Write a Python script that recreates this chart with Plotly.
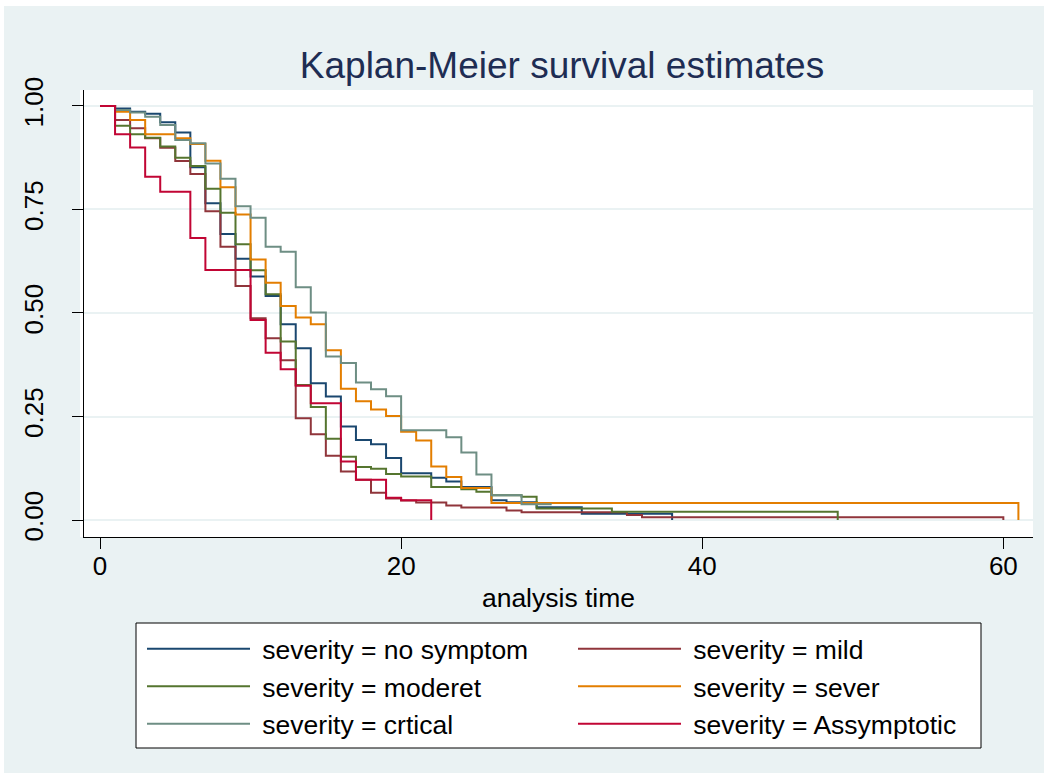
import plotly.graph_objects as go

# ---- data ----
t_nosym = [0, 1, 2, 3, 4, 5, 6, 7, 8, 9, 10, 11, 12, 13, 14, 15, 16, 17, 18, 19, 20, 22, 23, 24, 26, 27, 29, 32, 38]
s_nosym = [1, .994, .986, .981, .961, .936, .852, .765, .691, .631, .588, .541, .473, .415, .330, .298, .226, .193, .183, .150, .113, .102, .093, .080, .048, .043, .031, .015, 0]

t_mild = [0, 1, 2, 3, 4, 5, 6, 7, 8, 9, 10, 11, 12, 13, 14, 15, 16, 17, 18, 19, 20, 21, 23, 24, 27, 28, 35, 36, 60]
s_mild = [1, .966, .946, .922, .899, .867, .836, .746, .660, .565, .487, .439, .386, .246, .207, .155, .117, .097, .066, .052, .047, .042, .035, .030, .023, .019, .012, .0065, 0]

t_mod = [0, 1, 2, 3, 4, 5, 6, 7, 8, 9, 10, 11, 12, 13, 14, 15, 16, 17, 18, 19, 20, 22, 24, 25, 26, 28, 29, 34, 49]
s_mod = [1, .952, .932, .923, .902, .875, .855, .800, .742, .666, .603, .545, .431, .326, .273, .196, .153, .128, .124, .111, .105, .080, .074, .068, .060, .056, .028, .020, 0]

t_sev = [0, 1, 2, 3, 5, 6, 7, 8, 9, 10, 11, 12, 13, 14, 15, 16, 17, 18, 19, 20, 21, 22, 23, 24, 26, 61]
s_sev = [1, .986, .966, .932, .922, .908, .868, .804, .738, .629, .573, .517, .489, .473, .410, .317, .287, .267, .251, .213, .192, .129, .104, .077, .041, 0]

t_crit = [0, 1, 2, 3, 4, 5, 6, 7, 8, 9, 10, 11, 12, 13, 14, 15, 16, 17, 18, 19, 20, 23, 24, 25, 26, 28, 30]
s_crit = [1, .990, .984, .974, .954, .918, .910, .861, .824, .758, .730, .660, .648, .562, .501, .395, .379, .332, .316, .299, .217, .200, .163, .110, .060, .038, .038]

t_asym = [0, 1, 2, 3, 4, 6, 7, 10, 11, 12, 13, 14, 16, 17, 19, 20, 22]
s_asym = [1, .932, .900, .829, .793, .681, .604, .483, .404, .364, .324, .282, .141, .097, .054, .048, 0]

names = ["severity = no symptom", "severity = mild", "severity = moderet",
         "severity = sever", "severity = crtical", "severity = Assymptotic"]
times = [t_nosym, t_mild, t_mod, t_sev, t_crit, t_asym]
survs = [s_nosym, s_mild, s_mod, s_sev, s_crit, s_asym]
colors = ["#1A476F", "#90353B", "#55752F", "#E37E00", "#6E8E84", "#C10534"]

x_ticks = [0, 20, 40, 60]
y_ticks = [0, 0.25, 0.5, 0.75, 1.0]
y_ticklabels = ["0.00", "0.25", "0.50", "0.75", "1.00"]

FONT = "Liberation Sans, Arial, sans-serif"
BG = "#EAF2F3"

fig = go.Figure()
for n, t, s, c in zip(names, times, survs, colors):
    fig.add_trace(go.Scatter(x=t, y=s, mode="lines", name="\u00a0" + n,
                             line=dict(color=c, width=2, shape="hv")))

W, H = 1049, 779
L, R, T, B = 84, 16, 90, 242
pw, ph = W - L - R, H - T - B

def px_x(p):
    return (p - L) / pw

def px_y(p):
    return (H - B - p) / ph

fig.update_layout(
    width=W, height=H,
    margin=dict(l=L, r=R, t=T, b=B, pad=0),
    paper_bgcolor="white", plot_bgcolor="white",
    font=dict(family=FONT, color="black", size=26),
    title=dict(text="Kaplan-Meier survival estimates", x=px_x(562), xref="paper",
               xanchor="center", y=1 - 65 / H, yref="container", yanchor="middle",
               font=dict(size=37, color="#1E2D53", family=FONT)),
    shapes=[
        dict(type="rect", xref="paper", yref="paper", layer="below",
             x0=px_x(4), x1=px_x(1044), y0=px_y(773), y1=px_y(6),
             fillcolor=BG, line=dict(width=0)),
        dict(type="rect", xref="paper", yref="paper", layer="below",
             x0=px_x(80), x1=px_x(1033), y0=px_y(537), y1=px_y(90),
             fillcolor="white", line=dict(width=0)),
        # legend frame
        dict(type="rect", xref="paper", yref="paper", layer="below",
             x0=px_x(136), x1=px_x(981), y0=px_y(748), y1=px_y(623),
             fillcolor="white", line=dict(color="black", width=1)),
    ],
    xaxis=dict(range=[-1.063, 61.97], tickvals=x_ticks, showgrid=False, zeroline=False,
               showline=True, linecolor="black", linewidth=1, ticks="outside",
               ticklen=11, tickcolor="black", tickfont=dict(size=26),
               ticklabelstandoff=-5,
               title=dict(text="analysis time", font=dict(size=26.5), standoff=8)),
    yaxis=dict(range=[-0.04106, 1.0386], tickvals=y_ticks, ticktext=y_ticklabels,
               showgrid=True, gridcolor=BG, gridwidth=2, zeroline=False,
               showline=True, linecolor="black", linewidth=1, ticks="outside",
               ticklen=11, tickcolor="black", tickangle=-90, tickfont=dict(size=26),
               ticklabelstandoff=19),
    legend=dict(orientation="h", x=px_x(142), y=px_y(625), xanchor="left", yanchor="top",
                bgcolor="rgba(0,0,0,0)", borderwidth=0,
                font=dict(size=26.5, family=FONT), itemwidth=103,
                entrywidth=313, entrywidthmode="pixels", traceorder="normal"),
    showlegend=True,
)

fig.write_html("out.html")
